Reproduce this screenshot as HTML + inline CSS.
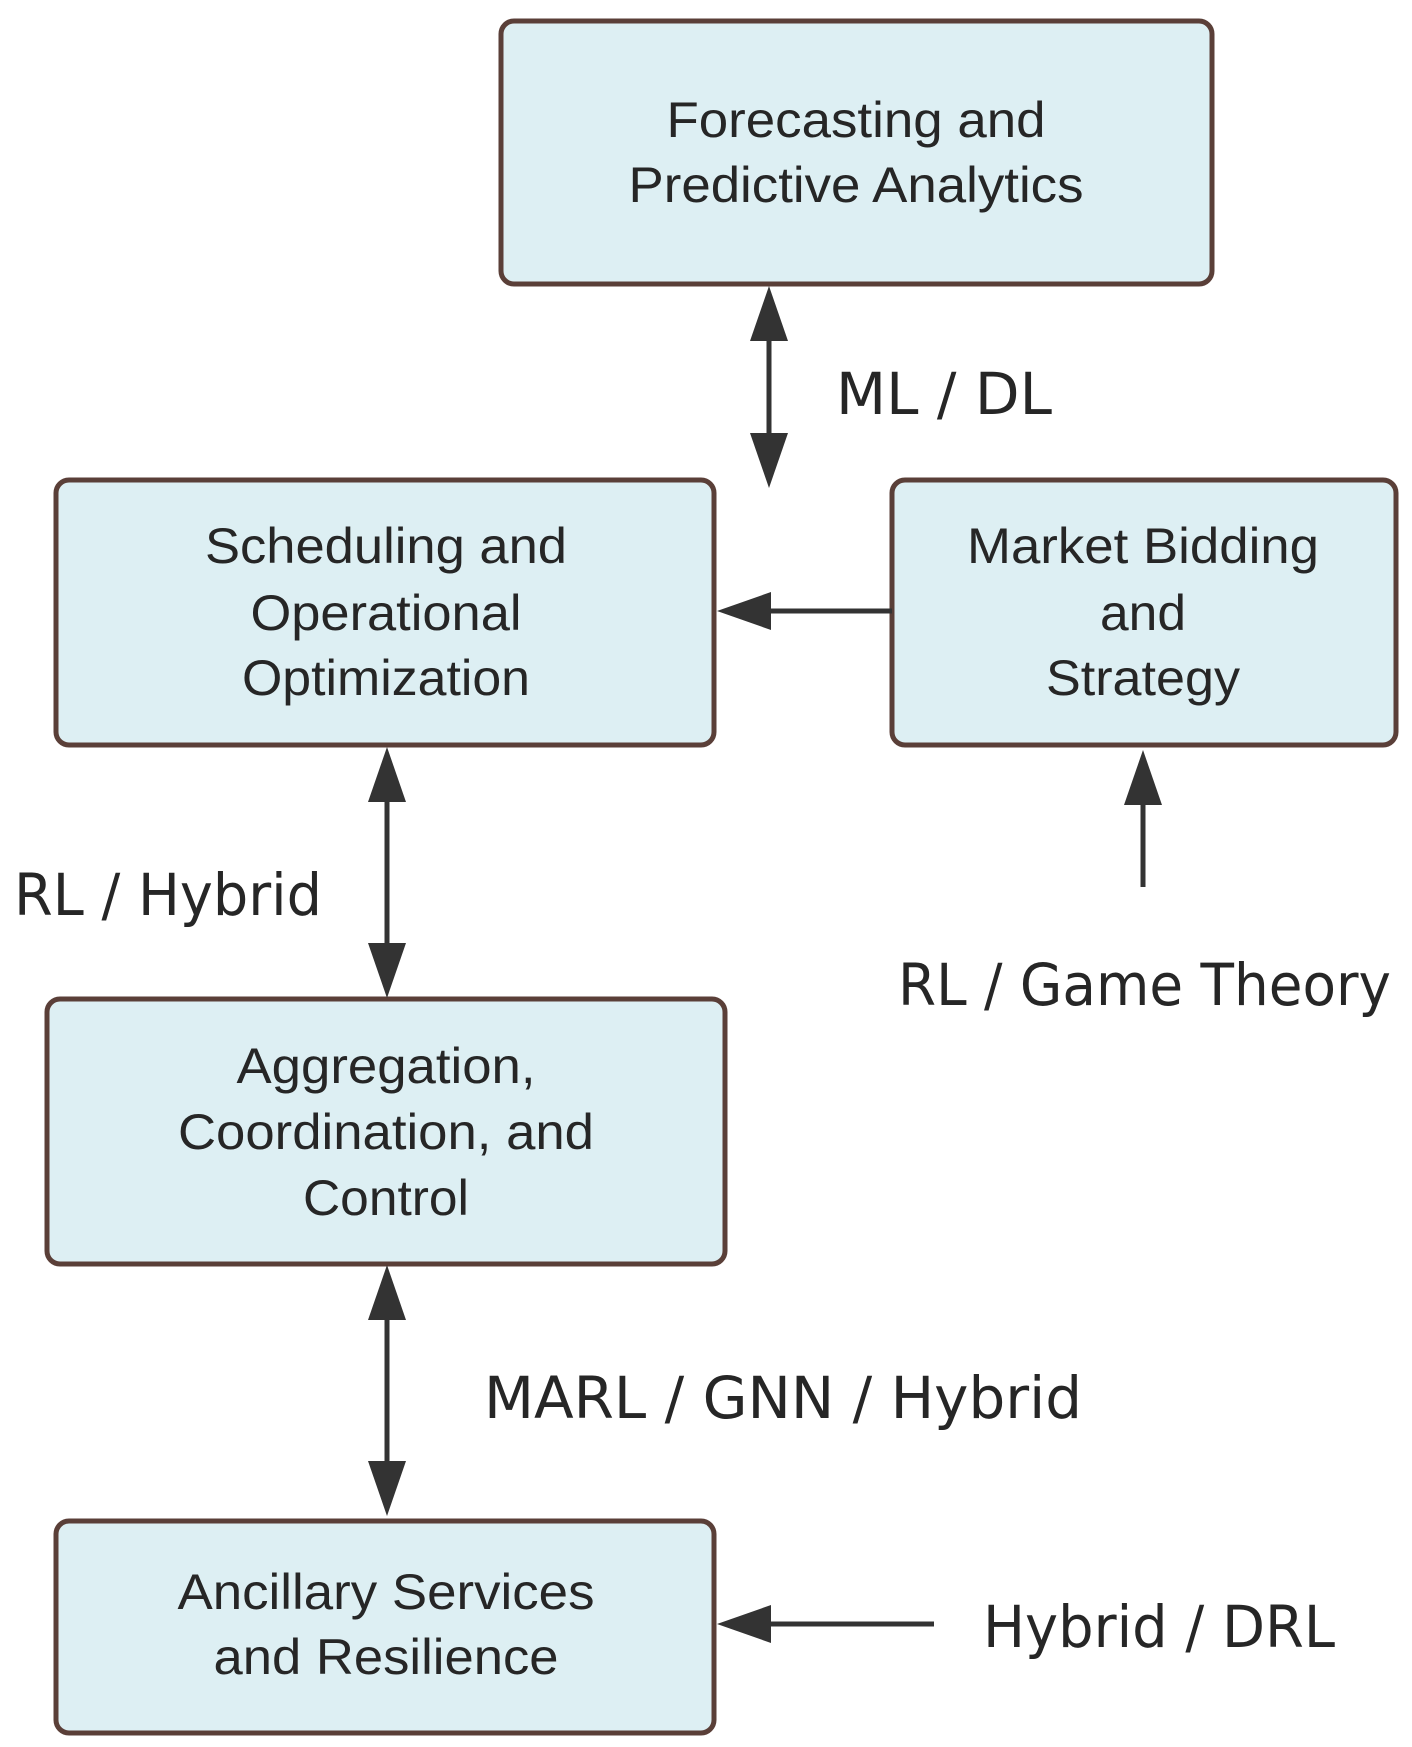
<!DOCTYPE html>
<html><head><meta charset="utf-8"><style>html,body{margin:0;padding:0;background:#fff}svg{display:block}</style></head>
<body>
<svg width="1412" height="1747" viewBox="0 0 1412 1747" xmlns="http://www.w3.org/2000/svg">
<g transform="translate(-2,-3)">
<g fill="#ddeff3" stroke="#5a3f38" stroke-width="5">
<rect x="503" y="24" width="711" height="263" rx="13"/>
<rect x="58" y="483" width="658" height="265" rx="13"/>
<rect x="894" y="483" width="504" height="265" rx="13"/>
<rect x="49" y="1002" width="678" height="265" rx="13"/>
<rect x="58" y="1524" width="658" height="212" rx="13"/>
</g>
<g stroke="#333" stroke-width="5" fill="none">
<line x1="771" y1="330" x2="771" y2="450"/>
<line x1="760" y1="614" x2="894" y2="614"/>
<line x1="389" y1="795" x2="389" y2="955"/>
<line x1="1145" y1="795" x2="1145" y2="890"/>
<line x1="389" y1="1313" x2="389" y2="1475"/>
<line x1="760" y1="1627" x2="936" y2="1627"/>
</g>
<g fill="#333">
<polygon points="771,289 752,344 790,344"/>
<polygon points="771,491 752,436 790,436"/>
<polygon points="719,614 773,595 773,633"/>
<polygon points="389,750 370,805 408,805"/>
<polygon points="389,1001 370,946 408,946"/>
<polygon points="1145,753 1126,808 1164,808"/>
<polygon points="389,1268 370,1323 408,1323"/>
<polygon points="389,1519 370,1464 408,1464"/>
<polygon points="719,1627 773,1608 773,1646"/>
</g>
<g font-family="Liberation Sans, sans-serif" font-size="50" fill="#262626" text-anchor="middle">
<text x="858" y="140" textLength="379" lengthAdjust="spacingAndGlyphs">Forecasting and</text>
<text x="858" y="205" textLength="455" lengthAdjust="spacingAndGlyphs">Predictive Analytics</text>
<text x="388" y="566" textLength="362" lengthAdjust="spacingAndGlyphs">Scheduling and</text>
<text x="388" y="633" textLength="271" lengthAdjust="spacingAndGlyphs">Operational</text>
<text x="388" y="698" textLength="288" lengthAdjust="spacingAndGlyphs">Optimization</text>
<text x="1145" y="566" textLength="352" lengthAdjust="spacingAndGlyphs">Market Bidding</text>
<text x="1145" y="633" textLength="86" lengthAdjust="spacingAndGlyphs">and</text>
<text x="1145" y="698" textLength="194" lengthAdjust="spacingAndGlyphs">Strategy</text>
<text x="388" y="1086" textLength="299" lengthAdjust="spacingAndGlyphs">Aggregation,</text>
<text x="388" y="1152" textLength="416" lengthAdjust="spacingAndGlyphs">Coordination, and</text>
<text x="388" y="1218" textLength="166" lengthAdjust="spacingAndGlyphs">Control</text>
<text x="388" y="1612" textLength="417" lengthAdjust="spacingAndGlyphs">Ancillary Services</text>
<text x="388" y="1677" textLength="345" lengthAdjust="spacingAndGlyphs">and Resilience</text>
</g>
<g font-family="DejaVu Sans, Liberation Sans, sans-serif" font-size="58" fill="#262626">
<text x="838" y="417" textLength="216" lengthAdjust="spacingAndGlyphs">ML / DL</text>
<text x="16" y="918" textLength="308" lengthAdjust="spacingAndGlyphs">RL / Hybrid</text>
<text x="900" y="1008" textLength="493" lengthAdjust="spacingAndGlyphs">RL / Game Theory</text>
<text x="486" y="1421" textLength="598" lengthAdjust="spacingAndGlyphs">MARL / GNN / Hybrid</text>
<text x="985" y="1650" textLength="352" lengthAdjust="spacingAndGlyphs">Hybrid / DRL</text>
</g>
</g>
</svg>
</body></html>
